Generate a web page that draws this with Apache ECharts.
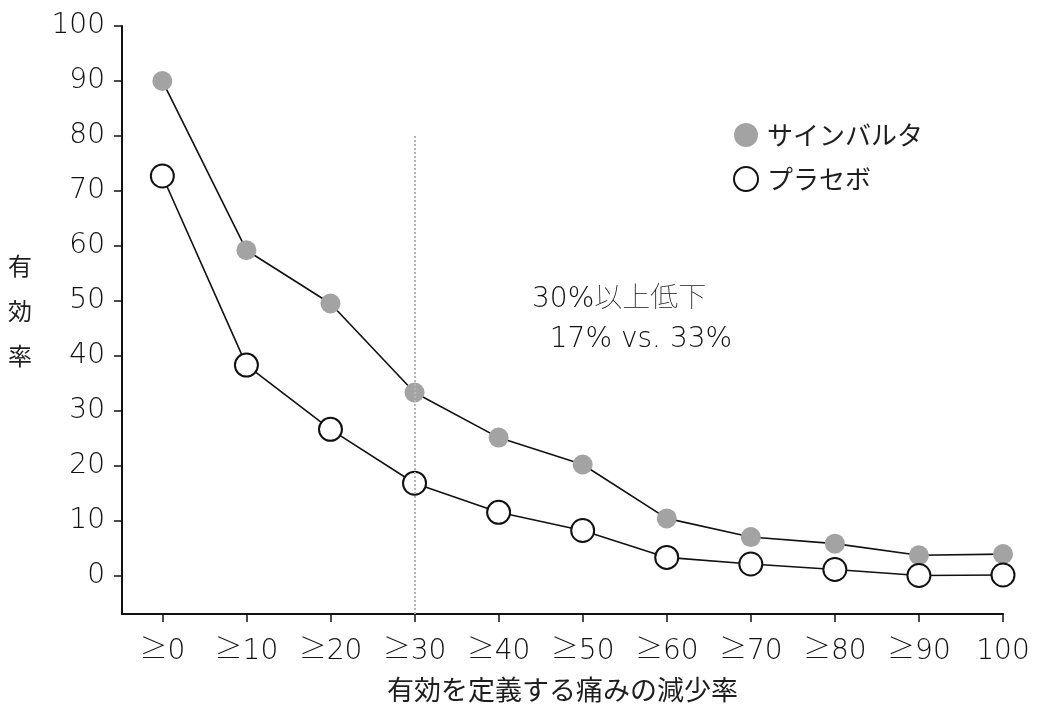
<!DOCTYPE html>
<html lang="ja">
<head>
<meta charset="UTF-8">
<title>有効率</title>
<style>
  html, body { margin: 0; padding: 0; background: #fff; }
  #chart { width: 1040px; height: 704px; }
</style>
</head>
<body>
<div id="chart"></div>
<script src="https://cdn.jsdelivr.net/npm/echarts@6/dist/echarts.min.js"></script>
<script>
// 痛みの減少率のカテゴリ
var categories = ['≥0', '≥10', '≥20', '≥30', '≥40', '≥50', '≥60', '≥70', '≥80', '≥90', '100'];
var yTicks = [0, 10, 20, 30, 40, 50, 60, 70, 80, 90, 100];
var duloxetine = [90, 59.2, 49.5, 33.3, 25.1, 20.2, 10.4, 7.0, 5.8, 3.7, 3.9];
var placebo = [72.7, 38.3, 26.6, 16.8, 11.5, 8.2, 3.3, 2.1, 1.1, 0, 0.1];
var seriesNames = ['サインバルタ', 'プラセボ'];
var noteLines = ['30%以上低下', '  17% vs. 33%'];
var cutoffIndex = 3;
var cutoffTop = 80;

var font = '"Noto Sans CJK JP", "Noto Sans", sans-serif';
var numFont = '"DejaVu Sans", "Noto Sans CJK JP", sans-serif';
var ink = '#1e1e1e';

function toPairs(values) {
  var out = [];
  for (var i = 0; i < values.length; i++) out.push([i, values[i]]);
  return out;
}
var xTicks = categories.map(function (c, i) { return i; });

var chart = echarts.init(document.getElementById('chart'));
var option = {
  backgroundColor: '#fff',
  animation: false,
  textStyle: { fontFamily: font },
  grid: { left: 122, right: 37, top: 26, bottom: 90, containLabel: false, outerBoundsMode: 'none' },
  legend: {
    orient: 'vertical',
    left: 728,
    top: 117,
    itemWidth: 24,
    itemHeight: 24,
    itemGap: 18,
    textStyle: { fontSize: 26, color: ink, fontFamily: font, padding: [0, 0, 0, 4] },
    data: [
      { name: seriesNames[0], icon: 'circle', itemStyle: { color: '#a3a3a3', borderWidth: 0 } },
      { name: seriesNames[1], icon: 'circle', itemStyle: { color: '#fff', borderColor: '#111', borderWidth: 2 } }
    ]
  },
  xAxis: {
    type: 'value',
    min: -0.48,
    max: 10,
    name: '有効を定義する痛みの減少率',
    nameLocation: 'middle',
    nameGap: 62,
    nameTextStyle: { fontSize: 27, color: ink, fontFamily: font },
    axisLine: { show: true, onZero: false, lineStyle: { color: '#111', width: 2 } },
    axisTick: { show: true, customValues: xTicks, length: 8, lineStyle: { color: '#111', width: 1.5 } },
    axisLabel: {
      customValues: xTicks,
      margin: 24,
      fontSize: 28,
      color: '#111',
      fontFamily: numFont,
      fontWeight: 'lighter',
      formatter: function (v) { return categories[Math.round(v)]; }
    },
    splitLine: { show: false }
  },
  yAxis: {
    type: 'value',
    min: -7,
    max: 100,
    name: '{a|有\n効\n率}\n{b|}',
    nameLocation: 'middle',
    nameRotate: 0,
    nameGap: 90,
    nameTextStyle: {
      fontSize: 24, color: ink, fontFamily: font,
      rich: {
        a: { fontSize: 24, color: ink, fontFamily: font, lineHeight: 45 },
        b: { fontSize: 10, lineHeight: 18 }
      }
    },
    axisLine: { show: true, onZero: false, lineStyle: { color: '#111', width: 2 } },
    axisTick: { show: true, customValues: yTicks, length: 8, lineStyle: { color: '#111', width: 1.5 } },
    axisLabel: {
      customValues: yTicks,
      margin: 17,
      fontSize: 28,
      color: '#111',
      fontFamily: numFont,
      fontWeight: 'lighter'
    },
    splitLine: { show: false }
  },
  graphic: [
    {
      type: 'text',
      left: 532,
      top: 280,
      style: { text: noteLines.join('\n'), fontSize: 28, lineHeight: 40, fill: '#111', fontFamily: numFont, fontWeight: 'lighter' }
    }
  ],
  series: [
    {
      name: seriesNames[0],
      type: 'line',
      data: toPairs(duloxetine),
      symbol: 'circle',
      symbolSize: 20,
      z: 3,
      itemStyle: { color: '#a3a3a3', borderWidth: 0 },
      lineStyle: { color: '#111', width: 1.6 },
      markLine: {
        silent: true,
        symbol: 'none',
        label: { show: false },
        lineStyle: { color: '#b5b5b5', type: 'dotted', width: 2 },
        data: [[{ coord: [cutoffIndex, -7] }, { coord: [cutoffIndex, cutoffTop] }]]
      }
    },
    {
      name: seriesNames[1],
      type: 'line',
      data: toPairs(placebo),
      symbol: 'circle',
      symbolSize: 23,
      z: 3,
      itemStyle: { color: '#fff', borderColor: '#111', borderWidth: 2 },
      lineStyle: { color: '#111', width: 1.6 }
    }
  ]
};
chart.setOption(option);
</script>
</body>
</html>
